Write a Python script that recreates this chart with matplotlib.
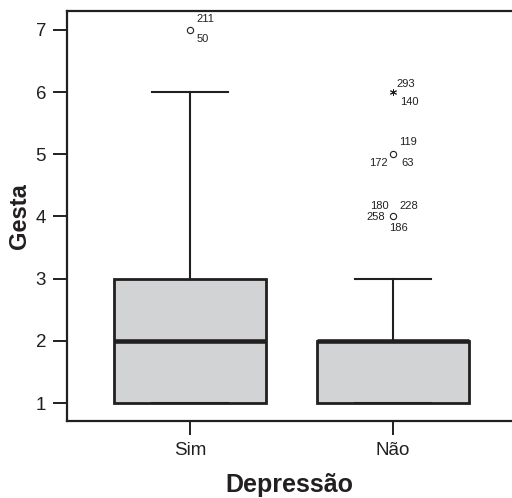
import matplotlib.pyplot as plt

plt.rcParams['font.family'] = ['Liberation Sans', 'DejaVu Sans']

# Box summary per group (Gesta by Depressão)
groups = ['Sim', 'Não']
q1 = [1, 1]
med = [2, 2]
q3 = [3, 2]
whis_lo = [1, 1]
whis_hi = [6, 3]

# outliers: (group index, value, marker, case labels)
out_group = [0, 1, 1, 1]
out_value = [7, 6, 5, 4]
out_marker = ['o', '*', 'o', 'o']
out_labels = [
    [('211', 6, 11), ('50', 7, -9)],
    [('293', 3, 8), ('140', 7, -10)],
    [('119', 6, 12), ('172', -24, -9), ('63', 8, -9)],
    [('180', -23, 10), ('228', 6, 10), ('258', -27, -1), ('186', -4, -12)],
]

ink = '#231f20'
fill = '#d2d3d5'

fig = plt.figure(figsize=(5.12, 4.98), dpi=100)
ax = fig.add_axes([67 / 512, 77 / 498, 445 / 512, 410 / 498])

stats = []
for i in range(len(groups)):
    stats.append(dict(q1=q1[i], med=med[i], q3=q3[i],
                      whislo=whis_lo[i], whishi=whis_hi[i], fliers=[]))

ax.bxp(stats, positions=[1, 2], widths=0.75, capwidths=0.375,
       showfliers=False, patch_artist=True,
       boxprops=dict(facecolor=fill, edgecolor=ink, linewidth=2),
       medianprops=dict(color=ink, linewidth=3.3, solid_capstyle='butt'),
       whiskerprops=dict(color=ink, linewidth=1.5),
       capprops=dict(color=ink, linewidth=1.5))

for g, v, m, labs in zip(out_group, out_value, out_marker, out_labels):
    x = g + 1
    if m == 'o':
        ax.plot(x, v, marker='o', markersize=4.5, markerfacecolor='none',
                markeredgecolor=ink, markeredgewidth=0.8, linestyle='none')
    else:
        ax.plot(x, v, marker=(6, 2, 0), markersize=5, color=ink,
                markeredgewidth=0.7, linestyle='none')
    for txt, dx, dy in labs:
        ax.annotate(txt, (x, v), xytext=(dx, dy), textcoords='offset pixels',
                    fontsize=8, color=ink, ha='left', va='center')

ax.set_xlim(1 - 123 / 203, 1 + 322 / 203)
ax.set_ylim(1 - 18 / 62.2, 7 + 19 / 62.2)
ax.set_yticks([1, 2, 3, 4, 5, 6, 7])
ax.set_xticks([1, 2])
ax.set_xticklabels(groups)

for s in ['left', 'bottom', 'top']:
    ax.spines[s].set_linewidth(1.6)
    ax.spines[s].set_color(ink)
ax.spines['right'].set_visible(False)

ax.tick_params(axis='both', length=10, width=1.4, color=ink,
               labelsize=13.5, labelcolor=ink, pad=5)

ax.set_ylabel('Gesta', fontsize=17, fontweight='bold', color=ink, labelpad=3)
ax.set_xlabel('Depressão', fontsize=18, fontweight='bold', color=ink, labelpad=10)

fig.savefig('out.png', dpi=100)
